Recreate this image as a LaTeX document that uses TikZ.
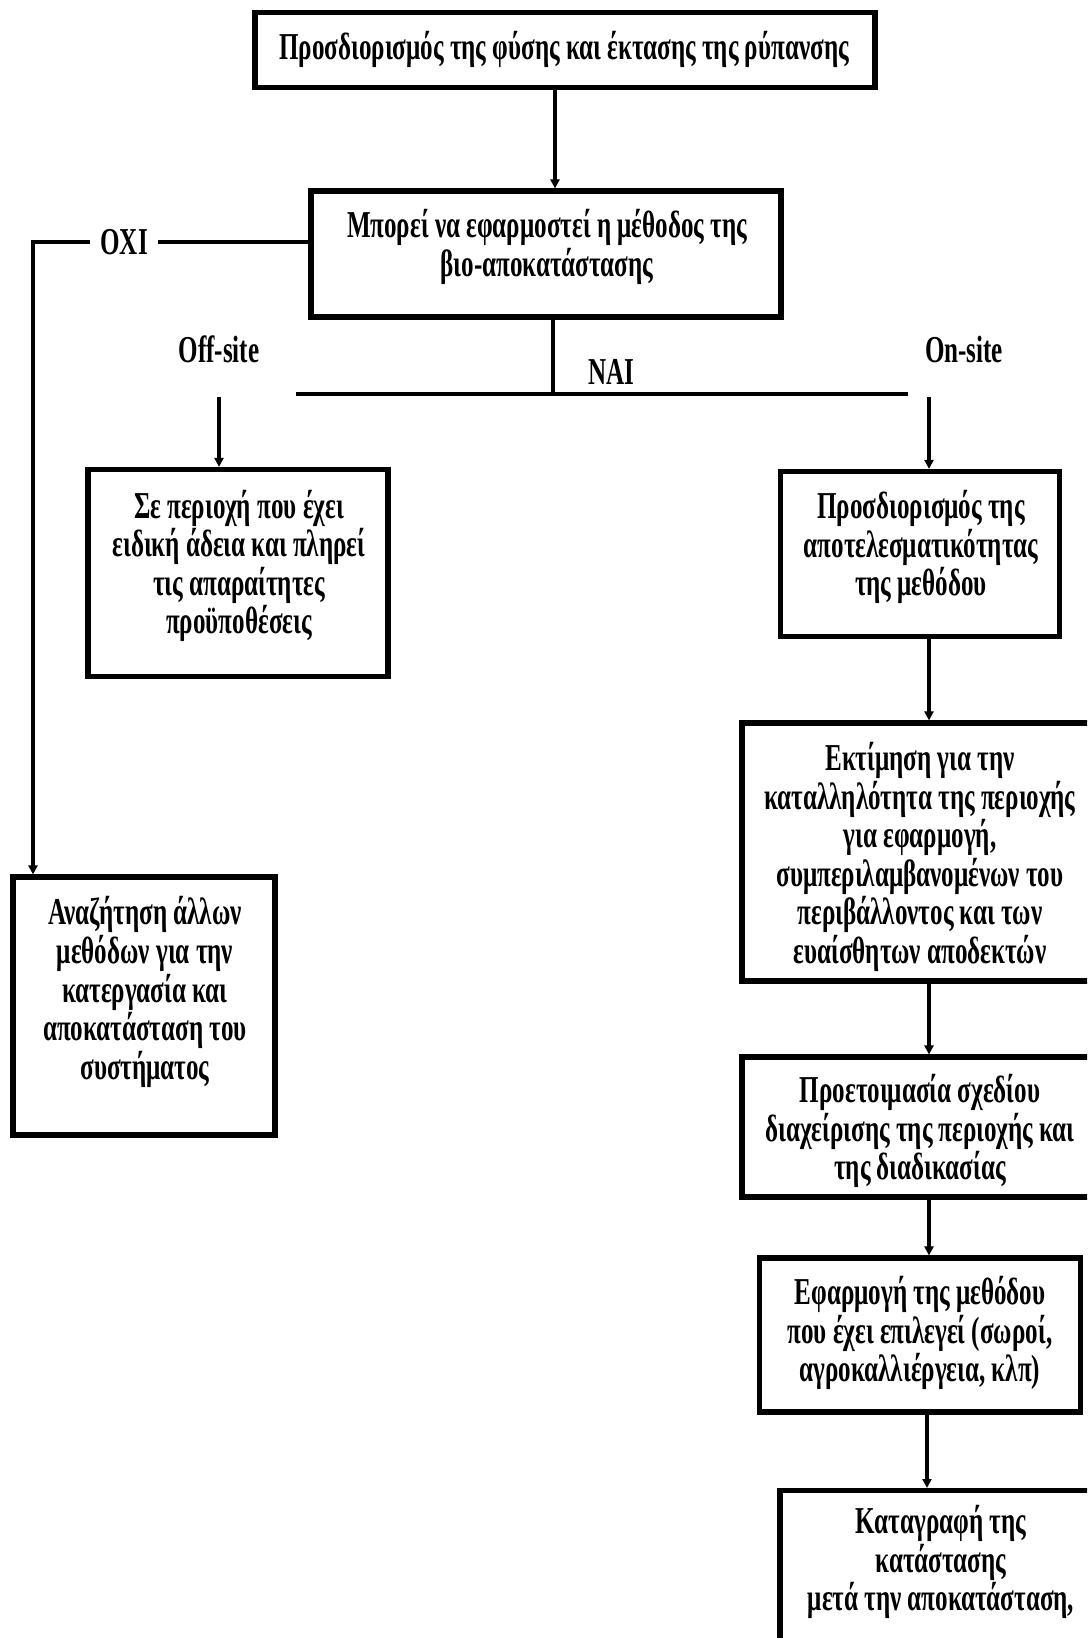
\documentclass[tikz,border=0pt]{standalone}
\usepackage{fontspec}
\setmainfont{Liberation Serif}[FakeStretch=0.66]
\usetikzlibrary{arrows.meta}
\begin{document}
\begin{tikzpicture}[x=0.5pt,y=-0.5pt,
  every node/.style={font=\fontsize{19}{19.3}\selectfont\bfseries},
  box/.style={draw, line width=2.6pt, inner sep=0pt},
  txt/.style={align=center, inner sep=0pt},
  conn/.style={line width=1.7pt},
  arr/.style={line width=1.7pt, -{Triangle[width=4.5pt,length=4.5pt]}},
  hline/.style={line width=2.4pt},
  lab/.style={inner sep=1pt}]
\useasboundingbox (0,0) rectangle (1087,1638);
\clip (0,0) rectangle (1087,1638);
\fill[white] (0,0) rectangle (1087,1638);

% boxes
\node[box, minimum width=310pt, minimum height=37.5pt] (b1) at (565,50) {};
\node[box, minimum width=235pt, minimum height=63pt] (b2) at (546,254) {};
\node[box, minimum width=150pt, minimum height=103.5pt] (boff) at (238,573) {};
\node[box, minimum width=139.5pt, minimum height=82.5pt] (bon) at (920,554) {};
\node[box, minimum width=178pt, minimum height=129pt] (b3) at (920,852) {};
\node[box, minimum width=178pt, minimum height=70pt] (b4) at (920,1127) {};
\node[box, minimum width=160.5pt, minimum height=77pt] (b5) at (920,1335) {};
\node[box, minimum width=160pt, minimum height=110pt, anchor=north] (b6) at (940,1488) {};
\node[box, minimum width=131pt, minimum height=129pt] (boxi) at (144,1006) {};

% texts
\node[txt] (b1t) at (564,49) {Προσδιορισμός της φύσης και έκτασης της ρύπανσης};
\node[txt] (b2t) at (547,247) {Μπορεί  να εφαρμοστεί η μέθοδος της\\βιο-αποκατάστασης};
\node[txt] (bofft) at (239,566) {Σε περιοχή που έχει\\ειδική άδεια και πληρεί\\τις απαραίτητες\\προϋποθέσεις};
\node[txt] (bont) at (921,547) {Προσδιορισμός της\\αποτελεσματικότητας\\της μεθόδου};
\node[txt] (b3t) at (920,857) {Εκτίμηση για την\\καταλληλότητα της περιοχής\\για εφαρμογή,\\συμπεριλαμβανομένων του\\περιβάλλοντος και των\\ευαίσθητων αποδεκτών};
\node[txt] (b4t) at (920,1131) {Προετοιμασία σχεδίου\\διαχείρισης της περιοχής και\\της διαδικασίας};
\node[txt] (b5t) at (920,1333) {Εφαρμογή της μεθόδου\\που έχει επιλεγεί (σωροί,\\αγροκαλλιέργεια, κλπ)};
\node[txt] (b6t) at (941,1562) {Καταγραφή της\\κατάστασης\\μετά την αποκατάσταση,};
\node[txt] (boxit) at (145,992) {Αναζήτηση άλλων\\μεθόδων για την\\κατεργασία και\\αποκατάσταση του\\συστήματος};

% labels
\node[lab] (nai) at (611,372) {ΝΑΙ};
\node[lab] (offl) at (219,349) {Off-site};
\node[lab] (onl) at (964,349) {On-site};

% connectors
\draw[arr] (b1.south -| 555,0) -- (b2.north -| 555,0);
\coordinate (hL) at (296,394);
\coordinate (hR) at (908,394);
\draw[hline] (hL) -- (hR);
\draw[conn] (b2.south -| 553,0) -- (553,394);
\coordinate (offs) at (219,397);
\coordinate (ons) at (929,397);
\draw[arr] (offs) -- (boff.north -| offs);
\draw[arr] (ons) -- (bon.north -| ons);
\draw[arr] (bon.south -| 929,0) -- (b3.north -| 929,0);
\draw[arr] (b3.south -| 929,0) -- (b4.north -| 929,0);
\draw[arr] (b4.south -| 929,0) -- (b5.north -| 929,0);
\draw[arr] (b5.south -| 927,0) -- (b6.north -| 927,0);
\coordinate (oxc) at (33,242);
\draw[arr] (b2.west |- oxc) -- node[pos=0.669, lab, fill=white, inner xsep=5pt] (oxi) {ΟΧΙ} (oxc) -- (boxi.north -| oxc);
\end{tikzpicture}
\end{document}
